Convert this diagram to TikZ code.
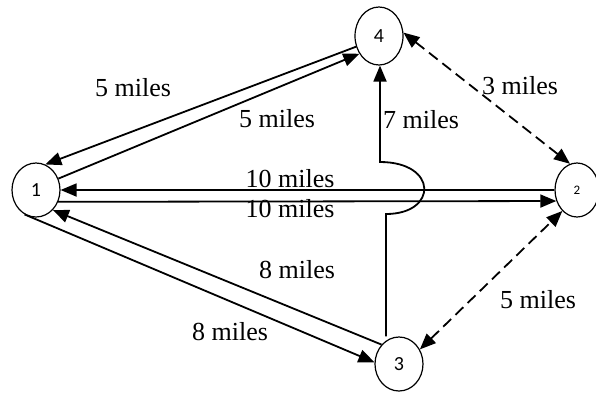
\documentclass[tikz,border=0pt]{standalone}
\usepackage{fontspec}
\setmainfont{Liberation Serif}
\newfontfamily\numfont{Carlito}
\usetikzlibrary{arrows.meta,shapes.geometric}

\begin{document}
\begin{tikzpicture}[x=1pt, y=-1pt,
	city/.style={ellipse, draw, line width=1.2pt, minimum width=48pt, minimum height=54pt, inner sep=0pt, font=\numfont\fontsize{20}{22}\selectfont},
	road/.style={line width=1.8pt, -{Triangle[length=16pt, width=13pt]}},
	twoway/.style={line width=1.8pt, dash pattern=on 11pt off 6pt, {Triangle[length=16pt, width=13pt]}-{Triangle[length=16pt, width=13pt]}},
	dist/.style={anchor=base, inner sep=0pt, font=\fontsize{26}{28}\selectfont}]
	\useasboundingbox (0,0) rectangle (596,392);
	% Cities:
	\node[city] (n1) at (36, 190){1};
	\node[city, minimum width=44pt, font=\numfont\fontsize{13}{15}\selectfont] (n2) at (577, 190){2};
	\node[city] (n3) at (399, 364){3};
	\node[city, minimum height=58pt] (n4) at (379, 36){4};
	% Roads:
	\draw[road] (n4.205) -- (n1.70);
	\draw[road] (n1.27) -- (n4.222);
	\draw[road] (n2.west) -- (n1.east);
	\draw[road] (n1.-28) -- (n2.208);
	\draw[road] (n3.132) -- (n1.-50);
	\draw[road] (n1.245) -- (n3.176);
	\draw[twoway] (n4.8) -- (n2.105);
	\draw[twoway] (n3.35) -- (n2.235);
	% Road 3 to 4 hops over the two middle roads:
	\coordinate (hopL) at (386, 214);
	\coordinate (hopU) at (380, 162);
	\draw[road] (n3.north -| hopL) -- (hopL) .. controls (438, 214) and (438, 162) .. (hopU) -- (hopU |- n4.south);
	% Distances:
	\node[dist] (d41) at (133, 96){5 miles};
	\node[dist] (d14) at (277, 127){5 miles};
	\node[dist] (d34) at (421, 128){7 miles};
	\node[dist] (d42) at (520, 94){3 miles};
	\node[dist] (d21) at (290, 187){10 miles};
	\node[dist] (d12) at (290, 217){10 miles};
	\node[dist] (d31) at (297, 278){8 miles};
	\node[dist] (d13) at (230, 340){8 miles};
	\node[dist] (d32) at (538, 308){5 miles};
\end{tikzpicture}
\end{document}
